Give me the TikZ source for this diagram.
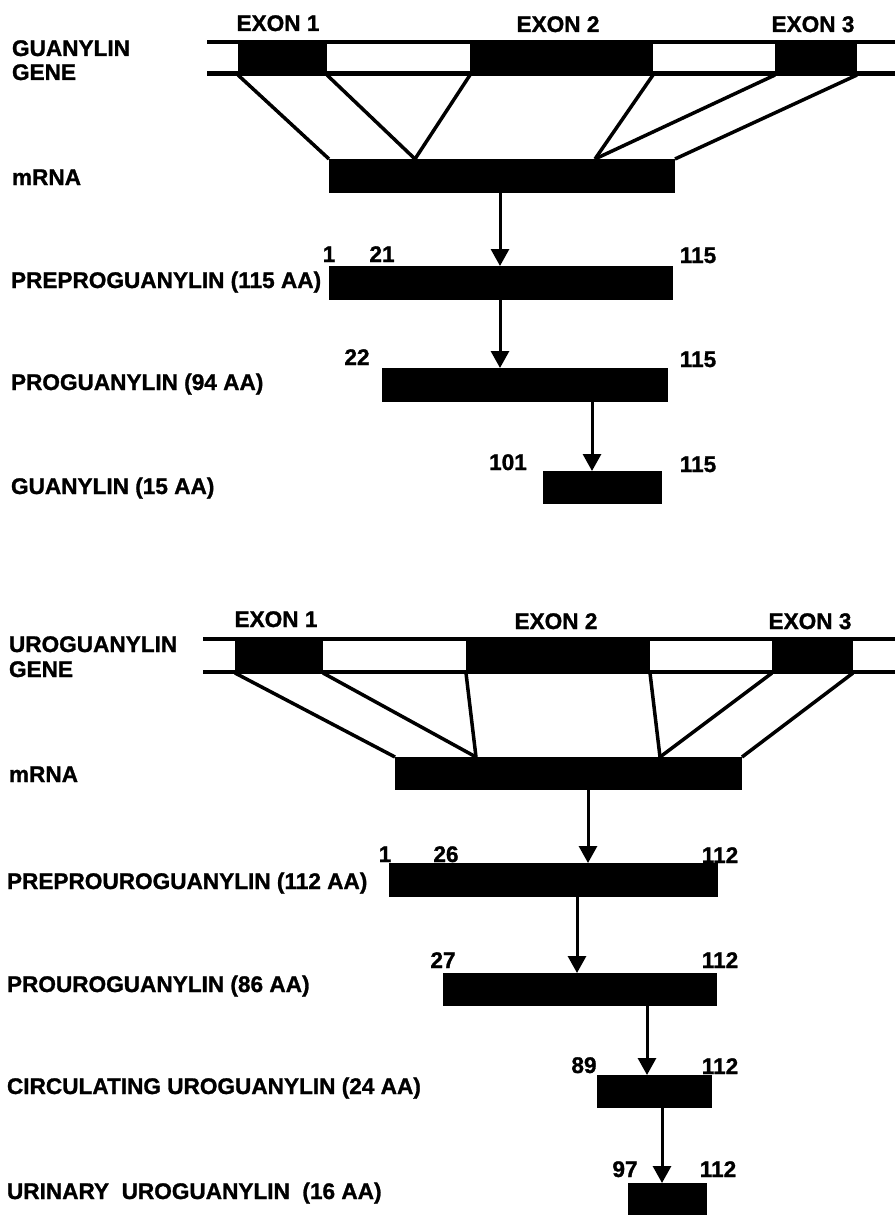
\documentclass[tikz,border=0pt]{standalone}
\usepackage{fontspec}
\setmainfont{Liberation Sans}[BoldFeatures={FakeBold=1.2}]
\usetikzlibrary{arrows.meta}
\begin{document}
\begin{tikzpicture}[x=1pt,y=-1pt,
  lbl/.style={font=\bfseries\fontsize{22.6}{26}\selectfont, inner sep=0pt, outer sep=0pt, anchor=base west},
  num/.style={font=\bfseries\fontsize{22.6}{26}\selectfont, inner sep=0pt, outer sep=0pt, anchor=base},
  bar/.style={fill=black, draw=none, inner sep=0pt, outer sep=0pt, anchor=north west},
  geneline/.style={line width=4pt},
  splice/.style={line width=3.5pt},
  flow/.style={line width=3pt, -{Triangle[width=18pt,length=17pt]}}
]
\useasboundingbox (0,0) rectangle (895,1215);
\fill[white] (0,0) rectangle (895,1215);

% ---------------- GUANYLIN ----------------
\coordinate (gts) at (207,42.5);
\coordinate (gte) at (895,42.5);
\coordinate (gbs) at (207,73.5);
\coordinate (gbe) at (895,73.5);
\draw[geneline] (gts) -- (gte);
\draw[geneline] (gbs) -- (gbe);

\node[bar, minimum width=89pt,  minimum height=34pt] (ex1) at (238,41) {};
\node[bar, minimum width=183pt, minimum height=34pt] (ex2) at (470,41) {};
\node[bar, minimum width=82pt,  minimum height=34pt] (ex3) at (775,41) {};

\node[bar, minimum width=346pt, minimum height=34pt] (mrna) at (329,159) {};
\coordinate (ma) at (415,159);
\coordinate (mb) at (595,159);

\draw[splice] (ex1.south west) -- (mrna.north west);
\draw[splice] (ex1.south east) -- (ma);
\draw[splice] (ex2.south west) -- (ma);
\draw[splice] (ex2.south east) -- (mb);
\draw[splice] (ex3.south west) -- (mb);
\draw[splice] (ex3.south east) -- (mrna.north east);

\node[bar, minimum width=344pt, minimum height=34pt] (pre) at (329,266) {};
\node[bar, minimum width=286pt, minimum height=34pt] (pro) at (382,368) {};
\node[bar, minimum width=119pt, minimum height=33pt] (gua) at (543,471) {};

\coordinate (xa) at (500,0);
\coordinate (xb) at (592,0);
\draw[flow] (mrna.south -| xa) -- (pre.north -| xa);
\draw[flow] (pre.south -| xa) -- (pro.north -| xa);
\draw[flow] (pro.south -| xb) -- (gua.north -| xb);

\node[lbl] (tg1) at (12,56) {GUANYLIN};
\node[lbl] (tg2) at (12,80) {GENE};
\node[lbl] (tm) at (12,185) {mRNA};
\node[lbl] (tpre) at (11,288) {PREPROGUANYLIN (115 AA)};
\node[lbl] (tpro) at (11,390) {PROGUANYLIN (94 AA)};
\node[lbl] (tgua) at (11,494) {GUANYLIN (15 AA)};

\node[num] (e1) at (278,31) {EXON 1};
\node[num] (e2) at (558,32) {EXON 2};
\node[num] (e3) at (813,32) {EXON 3};

\node[num] (n1) at (329,262) {1};
\node[num] (n21) at (382,262) {21};
\node[num] (n115a) at (698,263) {115};
\node[num] (n22) at (357,365) {22};
\node[num] (n115b) at (698,367) {115};
\node[num] (n101) at (508,470) {101};
\node[num] (n115c) at (698,472) {115};

% ---------------- UROGUANYLIN ----------------
\coordinate (uts) at (203,639);
\coordinate (ute) at (895,639);
\coordinate (ubs) at (203,671.5);
\coordinate (ube) at (895,671.5);
\draw[geneline] (uts) -- (ute);
\draw[geneline] (ubs) -- (ube);

\node[bar, minimum width=88pt,  minimum height=35pt] (uex1) at (235,638) {};
\node[bar, minimum width=184pt, minimum height=35pt] (uex2) at (466,638) {};
\node[bar, minimum width=81pt,  minimum height=35pt] (uex3) at (772,638) {};

\node[bar, minimum width=347pt, minimum height=33pt] (umrna) at (395,757) {};
\coordinate (ua) at (476,757);
\coordinate (ub) at (660,757);

\draw[splice] (uex1.south west) -- (umrna.north west);
\draw[splice] (uex1.south east) -- (ua);
\draw[splice] (uex2.south west) -- (ua);
\draw[splice] (uex2.south east) -- (ub);
\draw[splice] (uex3.south west) -- (ub);
\draw[splice] (uex3.south east) -- (umrna.north east);

\node[bar, minimum width=329pt, minimum height=34pt] (upre) at (389,863) {};
\node[bar, minimum width=274pt, minimum height=33pt] (upro) at (443,973) {};
\node[bar, minimum width=115pt, minimum height=33pt] (ucirc) at (597,1075) {};
\node[bar, minimum width=79pt,  minimum height=32pt] (uuri) at (628,1183) {};

\coordinate (ya) at (588,0);
\coordinate (yb) at (577,0);
\coordinate (yc) at (647,0);
\coordinate (yd) at (662,0);
\draw[flow] (umrna.south -| ya) -- (upre.north -| ya);
\draw[flow] (upre.south -| yb) -- (upro.north -| yb);
\draw[flow] (upro.south -| yc) -- (ucirc.north -| yc);
\draw[flow] (ucirc.south -| yd) -- (uuri.north -| yd);

\node[lbl] (tu1) at (9,652) {UROGUANYLIN};
\node[lbl] (tu2) at (9,677) {GENE};
\node[lbl] (tum) at (9,782) {mRNA};
\node[lbl] (tupre) at (7,889) {PREPROUROGUANYLIN (112 AA)};
\node[lbl] (tupro) at (7,992) {PROUROGUANYLIN (86 AA)};
\node[lbl] (tucirc) at (7,1094) {CIRCULATING UROGUANYLIN (24 AA)};
\node[lbl] (tuuri) at (7,1199) {URINARY\ \ UROGUANYLIN\ \ (16 AA)};

\node[num] (ue1) at (276,627) {EXON 1};
\node[num] (ue2) at (556,629) {EXON 2};
\node[num] (ue3) at (810,629) {EXON 3};

\node[num] (m1) at (385,862) {1};
\node[num] (m26) at (446,862) {26};
\node[num] (m112a) at (720,863) {112};
\node[num] (m27) at (443,968) {27};
\node[num] (m112b) at (720,968) {112};
\node[num] (m89) at (584,1073) {89};
\node[num] (m112c) at (720,1074) {112};
\node[num] (m97) at (625,1177) {97};
\node[num] (m112d) at (718,1177) {112};
\end{tikzpicture}
\end{document}
